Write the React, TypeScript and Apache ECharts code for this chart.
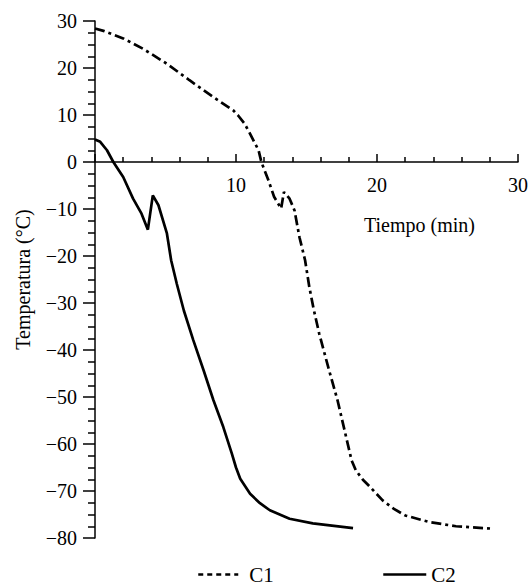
import React, { useEffect, useRef } from "react";
import * as echarts from "echarts";

const xTicks = [0, 10, 20, 30];
const yRange = [-80, 30];

const c1Time = [0, 0.6, 2.0, 3.4, 5.1, 6.7, 8.4, 9.8, 10.15, 10.6, 11.0, 11.6, 11.8, 12.3, 12.7, 13.2, 13.4, 13.8, 14.15, 14.5, 14.9, 15.2, 15.5, 15.9, 16.6, 17.2, 17.7, 18.2, 18.5, 19.0, 19.5, 20.4, 21.2, 22.0, 23.7, 25.6, 28.1];
const c1Temp = [28.4, 27.9, 26.3, 24.1, 20.9, 17.4, 13.8, 11.0, 9.9, 8.2, 6.0, 2.5, 0, -3.9, -7.4, -9.9, -6.4, -7.8, -10.3, -16, -20.9, -26.6, -31.2, -36.5, -44.3, -50.7, -57.1, -63.5, -65.6, -67.6, -69.1, -72.0, -73.8, -75.2, -76.6, -77.5, -78.0];

const c2Time = [0, 0.37, 0.85, 1.3, 2.0, 2.7, 3.3, 3.75, 4.1, 4.5, 5.1, 5.4, 5.8, 6.3, 6.97, 7.7, 8.4, 9.1, 9.7, 10.0, 10.3, 11.0, 11.7, 12.4, 13.8, 15.45, 18.3];
const c2Temp = [4.8, 4.3, 2.5, 0, -3.2, -7.8, -11, -14.4, -7.1, -9.2, -15.2, -20.9, -25.9, -31.6, -37.9, -44.3, -50.7, -56.4, -62.0, -65.0, -67.4, -70.6, -72.6, -74.1, -75.9, -76.9, -77.9];

const seriesNames = ["C1", "C2"];

export default function App() {
  const ref = useRef<HTMLDivElement>(null);
  useEffect(() => {
    if (!ref.current) return;
    const chart = echarts.init(ref.current, null, { renderer: "svg" });
    const font = "'Liberation Serif', 'Times New Roman', serif";
    const gridTop = 21;
    const gridBottom = 48;
    const gridHeight = 586 - gridTop - gridBottom;
    const zeroOffset = ((0 - yRange[0]) / (yRange[1] - yRange[0])) * gridHeight;
    const hiddenSymbol = { color: "transparent", borderWidth: 0, opacity: 0 };
    chart.setOption({
      animation: false,
      textStyle: { fontFamily: font, color: "#000" },
      grid: { left: 95, right: 12, top: gridTop, bottom: gridBottom },
      xAxis: {
        type: "value",
        min: xTicks[0],
        max: xTicks[xTicks.length - 1],
        interval: 10,
        offset: -zeroOffset,
        splitLine: { show: false },
        axisLine: { onZero: false, lineStyle: { color: "#000", width: 1.5 } },
        axisTick: { inside: true, length: 8, lineStyle: { color: "#000", width: 1.5 } },
        minorTick: { show: true, splitNumber: 5, length: 5, lineStyle: { color: "#000", width: 1.5 } },
        axisLabel: {
          fontFamily: font,
          fontSize: 20,
          color: "#000",
          margin: 13,
          formatter: (v: number) => (v === 0 ? "" : String(v)),
        },
      },
      yAxis: {
        type: "value",
        min: yRange[0],
        max: yRange[1],
        interval: 10,
        name: "Temperatura (°C)",
        nameLocation: "middle",
        nameGap: 62,
        nameTextStyle: { fontFamily: font, fontSize: 20, color: "#000" },
        splitLine: { show: false },
        axisLine: { show: true, onZero: false, lineStyle: { color: "#000", width: 1.5 } },
        axisTick: { inside: false, length: 12, lineStyle: { color: "#000", width: 1.5 } },
        minorTick: { show: true, splitNumber: 4, length: 7, lineStyle: { color: "#000", width: 1.5 } },
        axisLabel: {
          fontFamily: font,
          fontSize: 20,
          color: "#000",
          margin: 18,
          formatter: (v: number) => (v < 0 ? "\u2212" + Math.abs(v) : String(v)),
        },
      },
      legend: [
        {
          data: [seriesNames[0]],
          left: 197,
          top: 564,
          padding: 0,
          itemWidth: 40,
          itemHeight: 14,
          itemGap: 0,
          textStyle: { fontFamily: font, fontSize: 21, color: "#000", padding: [0, 0, 0, 6] },
          lineStyle: { type: [5, 4], width: 2.5, color: "#000" },
          itemStyle: hiddenSymbol,
        },
        {
          data: [seriesNames[1]],
          left: 382,
          top: 564,
          padding: 0,
          itemWidth: 43,
          itemHeight: 14,
          itemGap: 0,
          textStyle: { fontFamily: font, fontSize: 21, color: "#000", padding: [0, 0, 0, 0] },
          lineStyle: { type: "solid", width: 2.5, color: "#000" },
          itemStyle: hiddenSymbol,
        },
      ],
      graphic: [
        {
          type: "text",
          left: 364,
          top: 215,
          style: { text: "Tiempo (min)", font: `20px ${font}`, fill: "#000" },
        },
      ],
      series: [
        {
          name: seriesNames[0],
          type: "line",
          data: c1Time.map((t, i) => [t, c1Temp[i]]),
          symbol: "none",
          smooth: false,
          lineStyle: { color: "#000", width: 2.7, type: [10, 4, 3, 4] },
          itemStyle: { color: "#000" },
        },
        {
          name: seriesNames[1],
          type: "line",
          data: c2Time.map((t, i) => [t, c2Temp[i]]),
          symbol: "none",
          smooth: false,
          lineStyle: { color: "#000", width: 2.7, type: "solid" },
          itemStyle: { color: "#000" },
        },
      ],
    });
    return () => chart.dispose();
  }, []);
  return (
    <div
      ref={ref}
      style={{ position: "absolute", left: 0, top: 0, width: 531, height: 586 }}
    />
  );
}
